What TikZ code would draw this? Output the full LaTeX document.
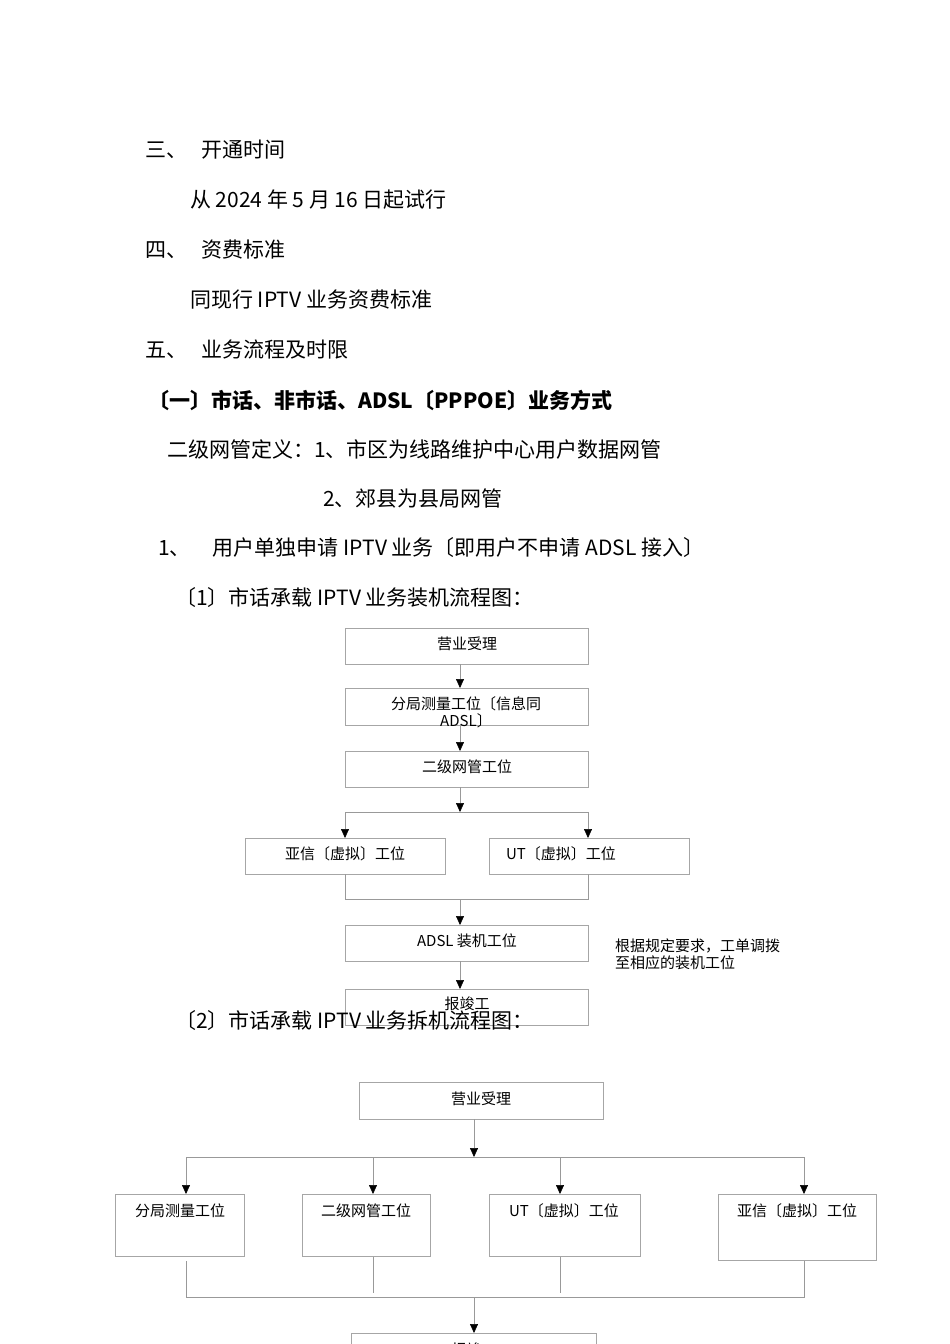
\documentclass[tikz,border=0pt]{standalone}
\usepackage{fontspec}
\setmainfont{Liberation Serif}
\newfontfamily\cjk{Noto Sans CJK SC}
\usetikzlibrary{arrows.meta}
\begin{document}
\begin{tikzpicture}[x=1pt,y=-1pt,
  body/.style={anchor=west,font=\cjk\fontsize{21}{21}\selectfont,inner sep=0},
  bx/.style={draw=gray!70,line width=0.8pt},
  lbl/.style={font=\cjk\fontsize{15}{17}\selectfont,inner sep=0},
  ln/.style={draw=gray!80,line width=0.6pt},
  ar/.style={ln,-{Triangle[length=9pt,width=8pt,black]}}]
\useasboundingbox (0,0) rectangle (950,1344);
\clip (0,0) rectangle (950,1344);
\node[body] (t1) at (145,150) {三、\hspace{14pt}开通时间};
\node[body] (t2) at (190,200) {从 2024 年 5 月 16 日起试行};
\node[body] (t3) at (145,250) {四、\hspace{14pt}资费标准};
\node[body] (t4) at (190,300) {同现行 IPTV 业务资费标准};
\node[body] (t5) at (145,350) {五、\hspace{14pt}业务流程及时限};
\node[body,font=\cjk\bfseries\fontsize{21}{21}\selectfont] (t6) at (148,400) {〔一〕市话、非市话、ADSL〔PPPOE〕业务方式};
\node[body] (t7) at (167,449) {二级网管定义：1、市区为线路维护中心用户数据网管};
\node[body] (t8) at (323,498) {2、郊县为县局网管};
\node[body] (t9) at (158,548) {1、\hspace{22pt}用户单独申请 IPTV 业务〔即用户不申请 ADSL 接入〕};
\node[body] (t10) at (175,598) {〔1〕市话承载 IPTV 业务装机流程图：};
% chart 1
\draw[bx] (345,628) rectangle (588,664); \node[lbl] (a1) at (467,644) {营业受理};
\draw[bx] (345,688) rectangle (588,725); \node[lbl,align=center] (a2) at (466,712) {分局测量工位〔信息同\\ADSL〕};
\draw[bx] (345,751) rectangle (588,787); \node[lbl] (a3) at (467,767) {二级网管工位};
\draw[bx] (245,838) rectangle (445,874); \node[lbl] (a4) at (345,854) {亚信〔虚拟〕工位};
\draw[bx] (489,838) rectangle (689,874); \node[lbl] (a5) at (561,854) {UT〔虚拟〕工位};
\draw[bx] (345,925) rectangle (588,961); \node[lbl] (a6) at (467,941) {ADSL 装机工位};
\draw[bx] (345,989) rectangle (588,1025); \node[lbl] (a7) at (467,1004) {报竣工};
\node[lbl,anchor=north west,align=left] (note) at (615,939) {根据规定要求，工单调拨\\至相应的装机工位};
\draw[ar] (460,664) -- (460,688);
\draw[ar] (460,725) -- (460,751);
\draw[ar] (460,787) -- (460,812);
\draw[ln] (345,812) -- (588,812);
\draw[ar] (345,812) -- (345,838);
\draw[ar] (588,812) -- (588,838);
\draw[ln] (345,874) -- (345,899) -- (588,899) -- (588,874);
\draw[ar] (460,899) -- (460,925);
\draw[ar] (460,961) -- (460,989);
\node[body] (t11) at (175,1021) {〔2〕市话承载 IPTV 业务拆机流程图：};
% chart 2
\draw[bx] (359,1082) rectangle (603,1119); \node[lbl] (b1) at (481,1099) {营业受理};
\draw[ar] (474,1119) -- (474,1157);
\draw[ln] (186,1157) -- (804,1157);
\foreach \x in {186,373,560,804} \draw[ar] (\x,1157) -- (\x,1194);
\draw[bx] (115,1194) rectangle (244,1256); \node[lbl] (b2) at (180,1211) {分局测量工位};
\draw[bx] (302,1194) rectangle (430,1256); \node[lbl] (b3) at (366,1211) {二级网管工位};
\draw[bx] (489,1194) rectangle (640,1256); \node[lbl] (b4) at (564,1211) {UT〔虚拟〕工位};
\draw[bx] (718,1194) rectangle (876,1260); \node[lbl] (b5) at (797,1211) {亚信〔虚拟〕工位};
\draw[ln] (186,1261) -- (186,1297) -- (804,1297) -- (804,1261);
\draw[ln] (373,1257) -- (373,1293);
\draw[ln] (560,1257) -- (560,1293);
\draw[ar] (474,1297) -- (474,1333);
\draw[bx] (351,1333) rectangle (596,1370); \node[lbl] (b6) at (474,1350) {报竣工};
\end{tikzpicture}
\end{document}
